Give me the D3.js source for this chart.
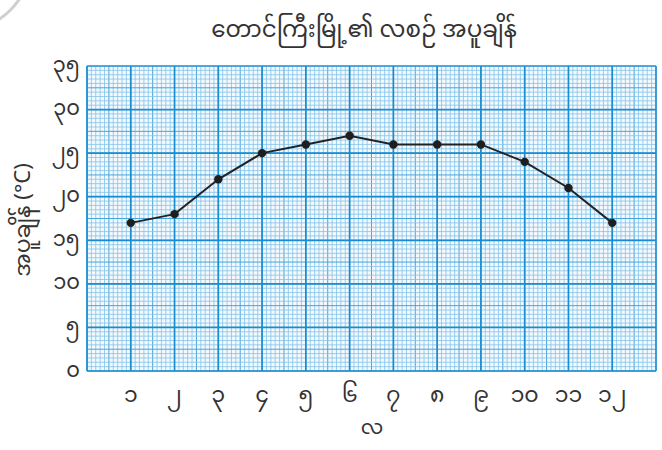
<!DOCTYPE html>
<html>
<head>
<meta charset="utf-8">
<script src="https://cdn.jsdelivr.net/npm/d3@7"></script>
<style>
  body { margin: 0; background: #fff; }
  text { font-family: "Noto Sans Myanmar", "Padauk", "Myanmar Text", "DejaVu Sans", sans-serif; fill: #333; }
</style>
</head>
<body>
<div id="chart"></div>
<script>
var width = 662,
    height = 450;

// data
var months = [1, 2, 3, 4, 5, 6, 7, 8, 9, 10, 11, 12];
var monthLabels = ["၁", "၂", "၃", "၄", "၅", "၆", "၇", "၈", "၉", "၁၀", "၁၁", "၁၂"];
var temps = [17, 18, 22, 25, 26, 27, 26, 26, 26, 24, 21, 17];
var yTicks = [0, 5, 10, 15, 20, 25, 30, 35];
var yTickLabels = ["၀", "၅", "၁၀", "၁၅", "၂၀", "၂၅", "၃၀", "၃၅"];
var title = "တောင်ကြီးမြို့၏ လစဉ် အပူချိန်";
var yTitle = "အပူချိန် (°C)";
var xTitle = "လ";

var svg = d3.select("#chart")
  .append("svg")
  .attr("width", width)
  .attr("height", height);

// scales
var x = d3.scaleLinear().domain([0, 13]).range([87, 656]);
var y = d3.scaleLinear().domain([0, 35]).range([371, 66]);

// decorative arc in the corner
svg.append("circle")
  .attr("cx", -40).attr("cy", -40).attr("r", 71)
  .style("fill", "none")
  .style("stroke", "#cfcfcf")
  .style("stroke-width", 3);

// graph paper background
svg.append("rect")
  .attr("x", x(0)).attr("y", y(35))
  .attr("width", x(13) - x(0)).attr("height", y(0) - y(35))
  .style("fill", "#f3f9fd");

var grid = svg.append("g");

// minor lines every 1/10 of a month and every 0.5 degree
var minorX = d3.range(0, 130).map(d => d / 10);
var minorY = d3.range(0, 70).map(d => d / 2);

grid.selectAll(".vminor")
  .data(minorX)
  .enter().append("line")
  .attr("x1", d => x(d)).attr("x2", d => x(d))
  .attr("y1", y(0)).attr("y2", y(35))
  .style("stroke", (d, i) => i % 5 == 0 ? "#47a5dd" : "#84c3ea")
  .style("stroke-width", (d, i) => i % 5 == 0 ? 1 : 0.8);

grid.selectAll(".hminor")
  .data(minorY)
  .enter().append("line")
  .attr("y1", d => y(d)).attr("y2", d => y(d))
  .attr("x1", x(0)).attr("x2", x(13))
  .style("stroke", (d, i) => i % 5 == 0 ? "#47a5dd" : "#84c3ea")
  .style("stroke-width", (d, i) => i % 5 == 0 ? 1 : 0.8);

// major lines
grid.selectAll(".vmajor")
  .data(d3.range(0, 14))
  .enter().append("line")
  .attr("x1", d => x(d)).attr("x2", d => x(d))
  .attr("y1", y(0)).attr("y2", y(35))
  .style("stroke", "#1a8dd0")
  .style("stroke-width", 1.7);

grid.selectAll(".hmajor")
  .data(yTicks)
  .enter().append("line")
  .attr("y1", d => y(d)).attr("y2", d => y(d))
  .attr("x1", x(0)).attr("x2", x(13))
  .style("stroke", "#1a8dd0")
  .style("stroke-width", 1.7);

// title
svg.append("text")
  .attr("x", 364)
  .attr("y", 31)
  .attr("text-anchor", "middle")
  .attr("dominant-baseline", "middle")
  .style("font-size", "23px")
  .text(title);

// y tick labels
svg.selectAll(".ylab")
  .data(yTicks)
  .enter().append("text")
  .attr("x", 80)
  .attr("y", d => y(d))
  .attr("text-anchor", "end")
  .attr("dominant-baseline", "middle")
  .style("font-size", "21px")
  .text((d, i) => yTickLabels[i]);

// x tick labels
svg.selectAll(".xlab")
  .data(months)
  .enter().append("text")
  .attr("x", d => x(d))
  .attr("y", 396)
  .attr("text-anchor", "middle")
  .attr("dominant-baseline", "middle")
  .style("font-size", "22px")
  .text((d, i) => monthLabels[i]);

// axis titles
svg.append("text")
  .attr("x", 372)
  .attr("y", 429)
  .attr("text-anchor", "middle")
  .attr("dominant-baseline", "middle")
  .style("font-size", "20px")
  .text(xTitle);

svg.append("text")
  .attr("transform", "translate(24,220) rotate(-90)")
  .attr("text-anchor", "middle")
  .attr("dominant-baseline", "middle")
  .style("font-size", "22px")
  .text(yTitle);

// line and points
var line = d3.line()
  .x((d, i) => x(months[i]))
  .y(d => y(d));

svg.append("path")
  .datum(temps)
  .attr("d", line)
  .style("fill", "none")
  .style("stroke", "#222")
  .style("stroke-width", 2);

svg.selectAll(".pt")
  .data(temps)
  .enter().append("circle")
  .attr("cx", (d, i) => x(months[i]))
  .attr("cy", d => y(d))
  .attr("r", 4.2)
  .style("fill", "#1e1e1e");
</script>
</body>
</html>
